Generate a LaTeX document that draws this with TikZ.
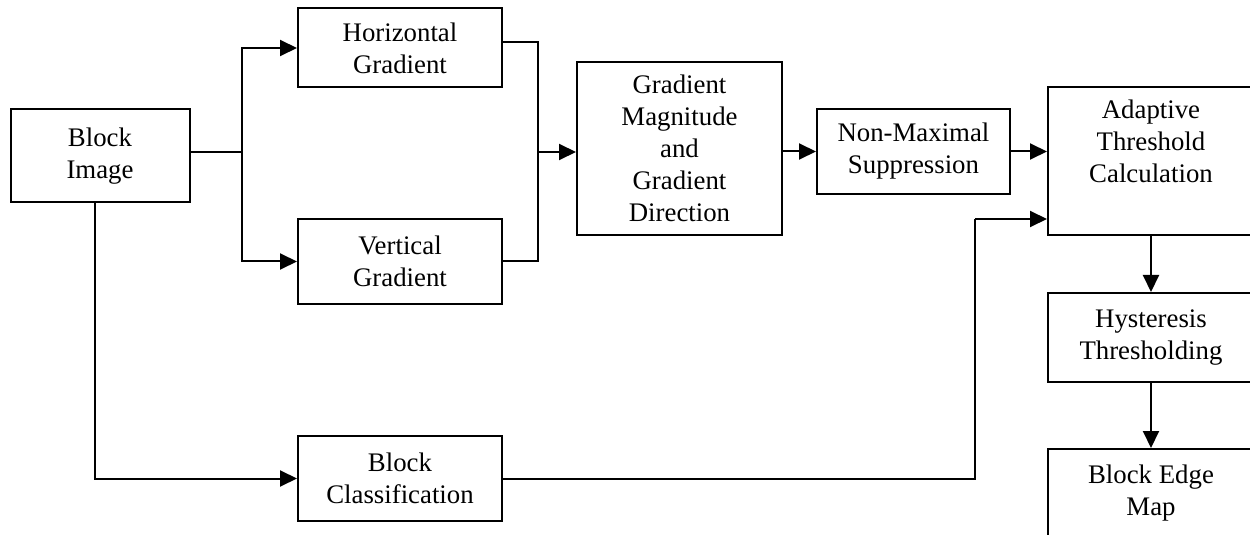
\documentclass[tikz,border=0pt]{standalone}
\usepackage{fontspec}
\setmainfont{Liberation Serif}
\usetikzlibrary{arrows.meta, positioning}

\tikzset{
  blk/.style={draw, line width=1pt, align=center, inner sep=2pt},
  sz/.style 2 args={minimum width=#1*0.5pt, minimum height=#2*0.5pt},
  conn/.style={line width=1pt, -{Triangle[length=8.5pt,width=8pt]}},
  wire/.style={line width=1pt},
}

\begin{document}
\begin{tikzpicture}[x=0.5pt, y=-0.5pt, font=\fontsize{13.4}{16}\selectfont]
    \useasboundingbox (0,0) rectangle (1250,535);
    \clip (0,0) rectangle (1250,535);
    %\draw[help lines] (0,0) grid (1250,535);
    \node[blk, sz={179}{93}] (img) at (100,156) {Block\\Image};
    \node[blk, sz={204}{79}] (hgrad) at (400,48) {Horizontal\\Gradient};
    \node[blk, sz={204}{85}] (vgrad) at (400,261.5) {Vertical\\Gradient};
    \node[blk, sz={205}{173}] (gmag) at (679.5,148.5) {Gradient\\Magnitude\\and\\Gradient\\Direction};
    \node[blk, sz={193}{85}] (nms) at (913.5,151.5) {Non-Maximal\\Suppression};
    \node[blk, sz={206}{148},
      label={[align=center, anchor=north, inner sep=7pt]north:{Adaptive\\Threshold\\Calculation}}] (atc) at (1151,161) {};
    \node[blk, sz={206}{89}] (hyst) at (1151,337.5) {Hysteresis\\Thresholding};
    \node[blk, sz={206}{89}] (bem) at (1151,493.5) {Block Edge\\Map};
    \node[blk, sz={204}{85}] (bcls) at (400,478.5) {Block\\Classification};
    \coordinate (fork) at (242,152);
    \coordinate (merge) at (538,152);
    \coordinate (bend) at (975,219);
    \draw[wire] (img.east |- fork) -- (fork);
    \draw[conn] (fork) |- (hgrad.west);
    \draw[conn] (fork) |- (vgrad.west);
    \draw[wire] ([yshift=3pt]hgrad.east) -| (merge);
    \draw[wire] (vgrad.east) -| (merge);
    \draw[conn] (merge) -- (gmag.west |- merge);
    \draw[conn] (gmag.east |- nms.west) -- (nms.west);
    \draw[conn] (nms.east) -- (atc.west |- nms.east);
    \draw[conn] (atc.south) -- (hyst.north);
    \draw[conn] (hyst.south) -- (bem.north);
    \draw[conn] ([xshift=-2.5pt]img.south) |- (bcls.west);
    \draw[wire] (bcls.east) -| (bend);
    \draw[conn] (bend) -- (atc.west |- bend);
\end{tikzpicture}
\end{document}
